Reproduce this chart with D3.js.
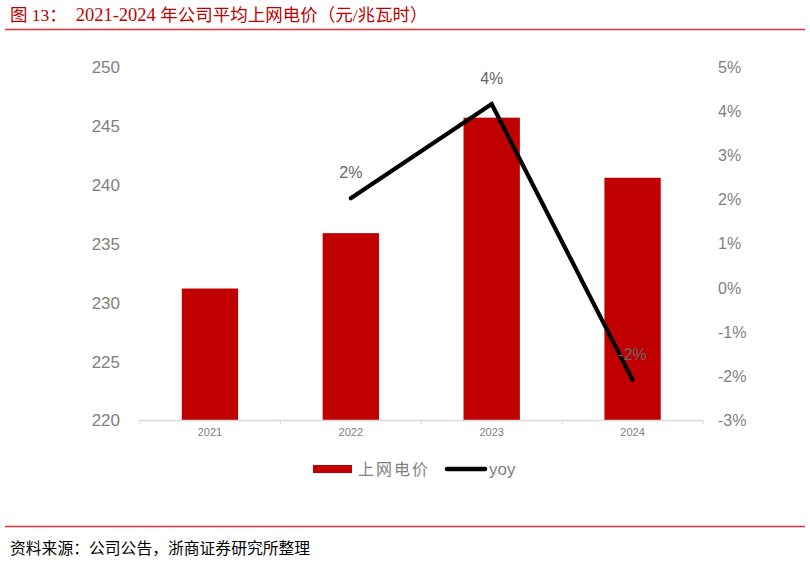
<!DOCTYPE html>
<html>
<head>
<meta charset="utf-8">
<script src="https://cdn.jsdelivr.net/npm/d3@7/dist/d3.min.js"></script>
<style>
  html, body { margin: 0; padding: 0; background: #fff; }
  svg { display: block; }
</style>
</head>
<body>
<svg id="chart" width="810" height="562"></svg>
<script>
// ---- data ----
const categories = ["2021", "2022", "2023", "2024"];
const priceValues = [231.2, 235.9, 245.7, 240.6];          // 上网电价 (元/兆瓦时)
const yoyValues = [null, 0.0203, 0.0416, -0.0208];          // yoy
const yoyLabels = [null, "2%", "4%", "-2%"];
const leftTicks = [220, 225, 230, 235, 240, 245, 250];
const rightTicks = [-0.03, -0.02, -0.01, 0, 0.01, 0.02, 0.03, 0.04, 0.05];
const titleParts = ["图 13：  ", "2021-2024", " 年公司平均上网电价（元/兆瓦时）"];
const sourceText = "资料来源：公司公告，浙商证券研究所整理";
const legendNames = ["上网电价", "yoy"];

// ---- layout ----
const svg = d3.select("#chart");
const plot = { left: 139.5, right: 703, top: 67, bottom: 420.5 };
const red = "#c00000";
const ruleRed = "#d8363a";
const gray = "#7f7f7f";

const x = d3.scaleBand().domain(categories).range([plot.left, plot.right])
  .paddingInner(0.6).paddingOuter(0.3);
const yL = d3.scaleLinear().domain([220, 250]).range([plot.bottom, plot.top]);
const yR = d3.scaleLinear().domain([-0.03, 0.05]).range([plot.bottom, plot.top]);

// title
const title = svg.append("text").attr("x", 10).attr("y", 21)
  .attr("font-family", "'Liberation Serif', 'Noto Sans CJK SC', serif")
  .attr("font-size", 17.5).attr("fill", red)
  .style("white-space", "pre");
title.append("tspan").text(titleParts[0]);
title.append("tspan").attr("font-size", 18.5).text(titleParts[1]);
title.append("tspan").text(titleParts[2]);
svg.append("line").attr("x1", 5).attr("x2", 805).attr("y1", 29.5).attr("y2", 29.5)
  .attr("stroke", ruleRed).attr("stroke-width", 1.5);

// bars
svg.append("g").selectAll("rect").data(categories).join("rect")
  .attr("x", d => x(d))
  .attr("width", x.bandwidth())
  .attr("y", (d, i) => yL(priceValues[i]))
  .attr("height", (d, i) => yL(220) - yL(priceValues[i]))
  .attr("fill", red);

// x axis baseline and boundary ticks
svg.append("line").attr("x1", plot.left).attr("x2", plot.right)
  .attr("y1", plot.bottom).attr("y2", plot.bottom)
  .attr("stroke", "#d9d9d9").attr("stroke-width", 1.3);
const bounds = d3.range(categories.length + 1).map(i => plot.left + i * x.step());
svg.append("g").selectAll("line").data(bounds).join("line")
  .attr("x1", d => d).attr("x2", d => d)
  .attr("y1", plot.bottom).attr("y2", plot.bottom + 4)
  .attr("stroke", "#d9d9d9").attr("stroke-width", 1.3);

const xAxis = svg.append("g").attr("transform", `translate(0,${plot.bottom})`)
  .call(d3.axisBottom(x).tickSize(0).tickPadding(8));
xAxis.select(".domain").remove();
xAxis.selectAll("text").attr("font-family", "'Liberation Sans', Arial, sans-serif")
  .attr("font-size", 11).attr("fill", gray);

// left axis
const lAxis = svg.append("g").attr("transform", `translate(120,0)`)
  .call(d3.axisLeft(yL).tickValues(leftTicks).tickSize(0).tickPadding(0).tickFormat(d3.format("d")));
lAxis.select(".domain").remove();
lAxis.selectAll("text").attr("font-family", "'Liberation Sans', Arial, sans-serif")
  .attr("font-size", 17).attr("fill", gray);

// right axis
const rAxis = svg.append("g").attr("transform", `translate(718,0)`)
  .call(d3.axisRight(yR).tickValues(rightTicks).tickSize(0).tickPadding(0).tickFormat(d3.format(".0%")));
rAxis.select(".domain").remove();
rAxis.selectAll("text").attr("font-family", "'Liberation Sans Narrow', 'Liberation Sans', Arial, sans-serif")
  .attr("font-size", 16).attr("fill", gray)
  .text(d => d3.format(".0%")(d).replace("−", "-"));

// yoy line
const pts = categories.map((c, i) => ({ c, v: yoyValues[i], l: yoyLabels[i] })).filter(d => d.v !== null);
const line = d3.line().x(d => x(d.c) + x.bandwidth() / 2).y(d => yR(d.v));
svg.append("path").datum(pts).attr("d", line)
  .attr("fill", "none").attr("stroke", "#000").attr("stroke-width", 4.2)
  .attr("stroke-linecap", "round").attr("stroke-linejoin", "miter");

// data labels
svg.append("g").selectAll("text").data(pts).join("text")
  .attr("x", d => x(d.c) + x.bandwidth() / 2)
  .attr("y", d => yR(d.v) - 20)
  .attr("text-anchor", "middle")
  .attr("font-family", "'Liberation Sans Narrow', 'Liberation Sans', Arial, sans-serif")
  .attr("font-size", 16).attr("fill", "#666666")
  .text(d => d.l);

// legend
const lg = svg.append("g");
lg.append("rect").attr("x", 313).attr("y", 465).attr("width", 39).attr("height", 8).attr("fill", red);
lg.append("text").attr("x", 358).attr("y", 475)
  .attr("font-family", "'Noto Sans CJK SC', sans-serif").attr("font-size", 16)
  .attr("letter-spacing", 2).attr("fill", gray).text(legendNames[0]);
lg.append("line").attr("x1", 447).attr("x2", 485).attr("y1", 469).attr("y2", 469)
  .attr("stroke", "#000").attr("stroke-width", 4.5).attr("stroke-linecap", "round");
lg.append("text").attr("x", 489).attr("y", 475)
  .attr("font-family", "'Liberation Sans', Arial, sans-serif").attr("font-size", 17)
  .attr("fill", gray).text(legendNames[1]);

// bottom rule and source
svg.append("line").attr("x1", 5).attr("x2", 805).attr("y1", 526.5).attr("y2", 526.5)
  .attr("stroke", ruleRed).attr("stroke-width", 1.5);
svg.append("text").attr("x", 10).attr("y", 554)
  .attr("font-family", "'Noto Sans CJK SC', sans-serif").attr("font-size", 15.8)
  .attr("fill", "#000").text(sourceText);
</script>
</body>
</html>
